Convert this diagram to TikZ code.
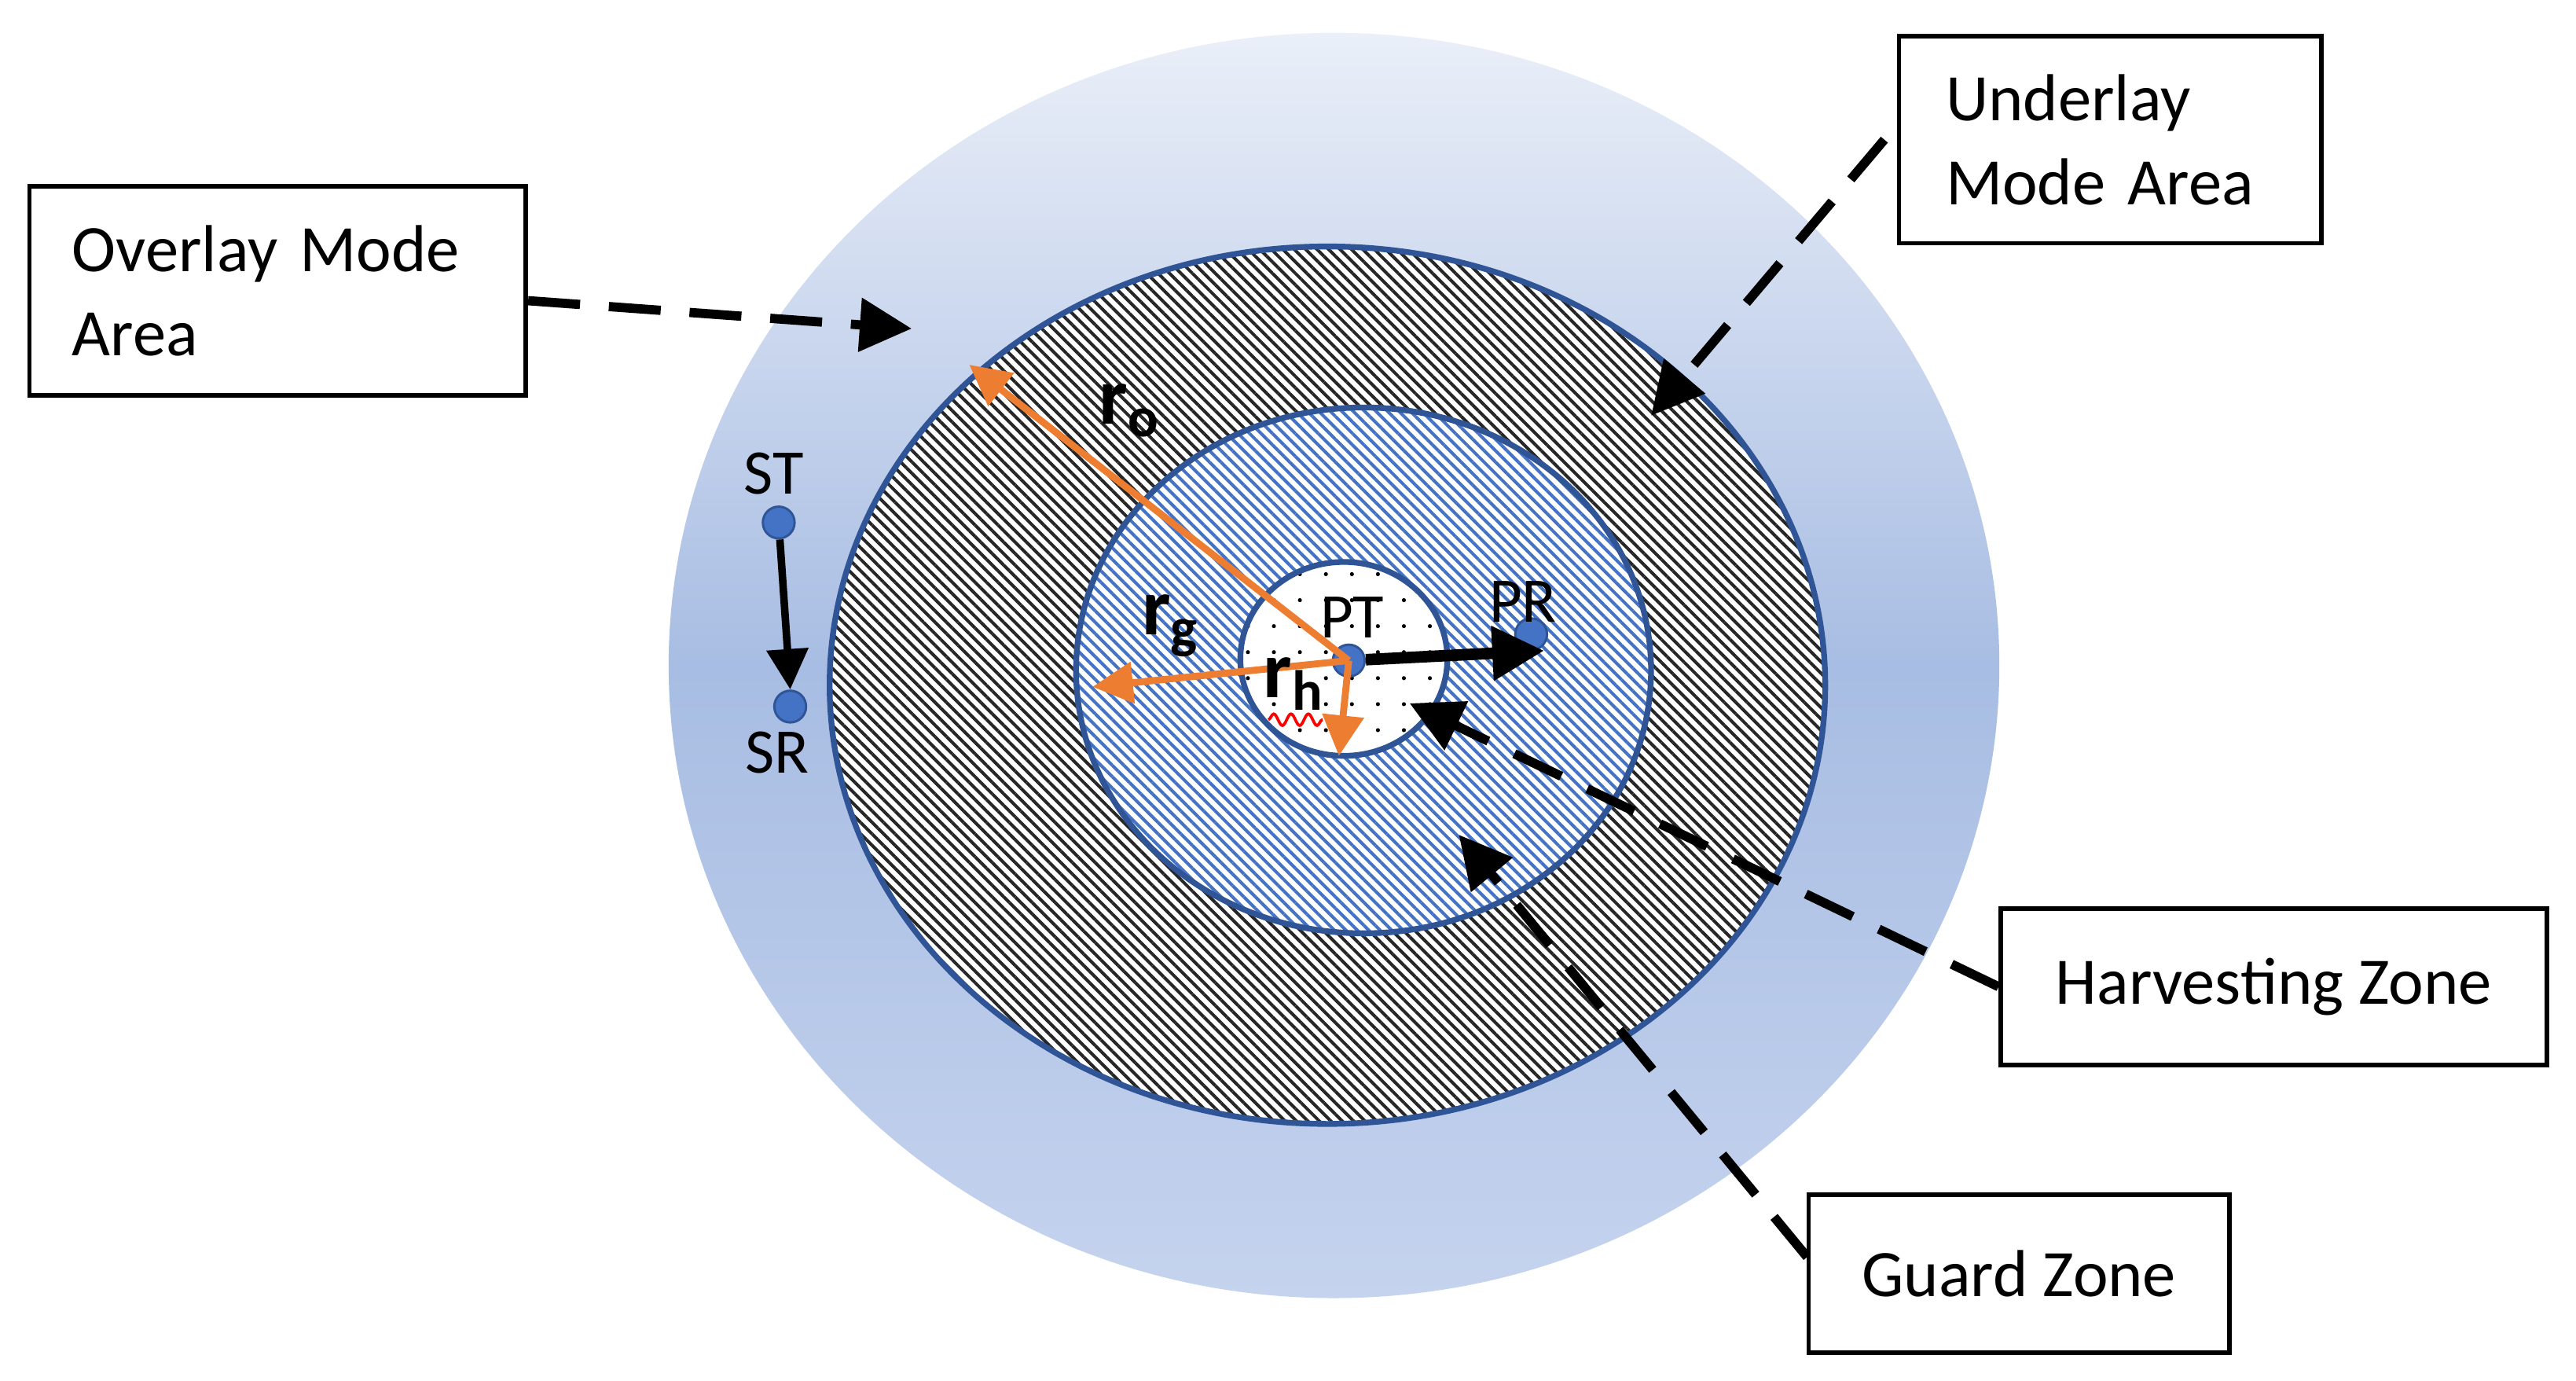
\documentclass[tikz,border=0pt]{standalone}
\usepackage{fontspec}
\setmainfont{Carlito}
\usetikzlibrary{patterns.meta,arrows.meta,decorations.pathmorphing}
\definecolor{ring}{HTML}{2F5597}
\definecolor{og}{HTML}{ED7D31}
\definecolor{sky1}{HTML}{EAEFF8}
\definecolor{sky2}{HTML}{A8BDE3}
\definecolor{sky3}{HTML}{C5D3EE}
\definecolor{hb}{HTML}{4472C4}
\begin{document}
\begin{tikzpicture}[x=0.01cm,y=-0.01cm,
  box/.style={draw,line width=0.8pt,fill=white,inner sep=0pt,align=left,font=\fontsize{11.5}{14.5}\selectfont},
  dsh/.style={line width=1.6pt,dash pattern=on 9pt off 5pt,-{Triangle[length=9pt,width=9pt]}},
  orr/.style={og,line width=1.2pt,-{Triangle[length=7pt,width=7pt]}},
  dot/.style={circle,fill=hb,draw=ring,inner sep=0pt,minimum size=5.5pt},
  lab/.style={font=\fontsize{11}{13}\selectfont},
  rl/.style={font=\fontsize{14}{16}\selectfont\bfseries}]
\useasboundingbox (0,0) rectangle (1568,840);
\fill[white] (0,0) rectangle (1568,840);
\shade[top color=sky1,bottom color=sky3,middle color=sky2,shading angle=0] (812,405) ellipse [x radius=405,y radius=385];
\fill[white] (808,417) ellipse [x radius=303,y radius=267];
\fill[pattern={Lines[angle=-45,distance=1.4pt,line width=0.55pt]},pattern color=black!85] (808,417) ellipse [x radius=303,y radius=267];
\draw[ring,line width=1pt] (808,417) ellipse [x radius=303,y radius=267];
\fill[white] (830,408) ellipse [x radius=175,y radius=160];
\fill[pattern={Lines[angle=-45,distance=1.4pt,line width=0.55pt]},pattern color=hb] (830,408) ellipse [x radius=175,y radius=160];
\draw[ring,line width=1pt] (830,408) ellipse [x radius=175,y radius=160];
\fill[white] (818,401) ellipse [x radius=63,y radius=59];
\fill[pattern={Dots[distance=4.5pt,radius=0.35pt]},pattern color=black] (818,401) ellipse [x radius=63,y radius=59];
\draw[ring,line width=1pt] (818,401) ellipse [x radius=63,y radius=59];
\node[dot] (PT) at (821,402) {};
\node[dot] (PR) at (932,386) {};
\node[dot] (ST) at (474,318) {};
\node[dot] (SR) at (481,430) {};
\coordinate (ro) at (590,222);
\coordinate (rg) at (665,418);
\coordinate (rh) at (815,460);
\coordinate (prt) at (940,396);
\draw[orr] (PT.center) -- (ro);
\draw[orr] (PT.center) -- (rg);
\draw[orr] (PT.center) -- (rh);
\draw[line width=2pt,-{Triangle[length=9pt,width=9pt]}] (PT) -- (prt);
\draw[line width=1.3pt,-{Triangle[length=7pt,width=7pt]}] (ST) -- (SR.north);
\node[lab] at (823,376) {PT};
\node[lab] at (927,366) {PR};
\node[lab] at (471,288) {ST};
\node[lab] at (473,458) {SR};
\node[rl] at (688,250) {r\textsubscript{o}};
\node[rl] at (713,381) {r\textsubscript{g}};
\node[rl] at (788,416) {r\textsubscript{h}};
\draw[red,line width=0.5pt,decorate,decoration={snake,amplitude=1pt,segment length=3pt}] (772,438) -- (805,438);
\node[box,minimum width=3.02cm,minimum height=1.27cm,text width=2.5cm] (ov) at (169,177) {Overlay Mode\\Area};
\node[box,minimum width=2.57cm,minimum height=1.26cm,text width=2.0cm] (un) at (1284.5,85) {Underlay\\Mode Area};
\node[box,minimum width=3.32cm,minimum height=0.95cm] (hz) at (1384,600.5) {Harvesting Zone};
\node[box,minimum width=2.56cm,minimum height=0.96cm] (gz) at (1229,775) {Guard Zone};
\coordinate (a1) at (555,200);
\coordinate (a2) at (1005,253);
\coordinate (a3) at (858,428);
\coordinate (a4) at (888,508);
\draw[dsh] (ov.east |- 0,183) -- (a1);
\draw[dsh] (1147,85) -- (a2);
\draw[dsh] (hz.west) -- (a3);
\draw[dsh] (1100,765) -- (a4);
\end{tikzpicture}
\end{document}
